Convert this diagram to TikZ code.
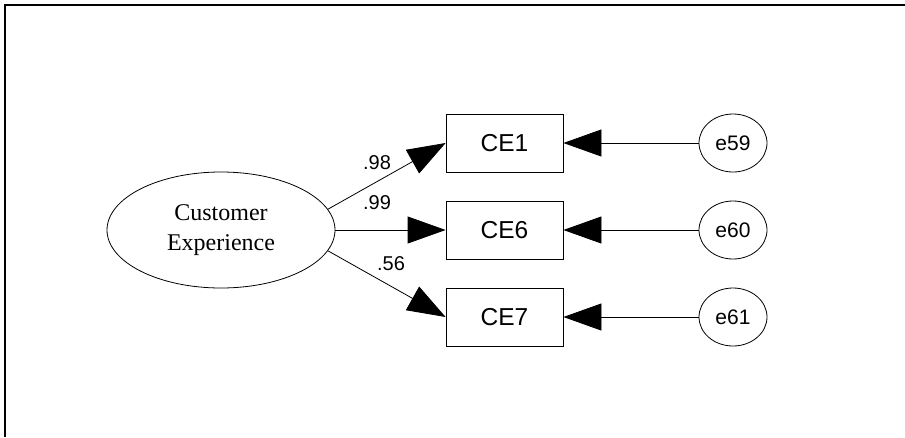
\documentclass[tikz,border=0pt]{standalone}
\usepackage{fontspec}
\setmainfont{Liberation Sans}
\newfontfamily\serifface{Liberation Serif}
\usepackage{tikz}
\usetikzlibrary{shapes.geometric}
\usetikzlibrary{arrows.meta}

\tikzset{
    latent/.style={draw, ellipse, line width=0.8pt, minimum width=228pt, minimum height=116pt, inner sep=0pt,
        align=center, font=\serifface\fontsize{24}{30}\selectfont},
    observed/.style={draw, rectangle, line width=0.8pt, minimum width=117pt, minimum height=58pt, inner sep=0pt,
        font=\fontsize{24.5}{27}\selectfont},
    errterm/.style={draw, ellipse, line width=0.8pt, minimum width=68pt, minimum height=58pt, inner sep=0pt,
        font=\fontsize{21}{24}\selectfont},
    path/.style={line width=0.8pt, -{Triangle[length=38pt, width=27pt]}},
    weight/.style={font=\fontsize{20}{22}\selectfont, inner sep=0pt}
}

\begin{document}
\begin{tikzpicture}[x=1pt, y=-1pt]
    \useasboundingbox (0, 0) rectangle (905, 437);
    \draw[line width=1.5pt] (5, 437) -- (5, 5) -- (905, 5);

    \node[latent] (ce) at (221, 230) {Customer\\Experience};
    \node[observed] (ce1) at (504.5, 143) {CE1};
    \node[observed] (ce6) at (504.5, 230) {CE6};
    \node[observed] (ce7) at (504.5, 317) {CE7};
    \node[errterm] (e59) at (733, 143) {e59};
    \node[errterm] (e60) at (733, 230) {e60};
    \node[errterm] (e61) at (733, 317) {e61};

    \draw[path] (ce.11) -- (ce1.west);
    \draw[path] (ce.east) -- (ce6.west);
    \draw[path] (ce.-11) -- (ce7.west);
    \draw[path] (e59.west) -- (ce1.east);
    \draw[path] (e60.west) -- (ce6.east);
    \draw[path] (e61.west) -- (ce7.east);

    \node[weight] (w1) at (377, 163) {.98};
    \node[weight] (w6) at (377, 203) {.99};
    \node[weight] (w7) at (391, 264) {.56};
\end{tikzpicture}
\end{document}
